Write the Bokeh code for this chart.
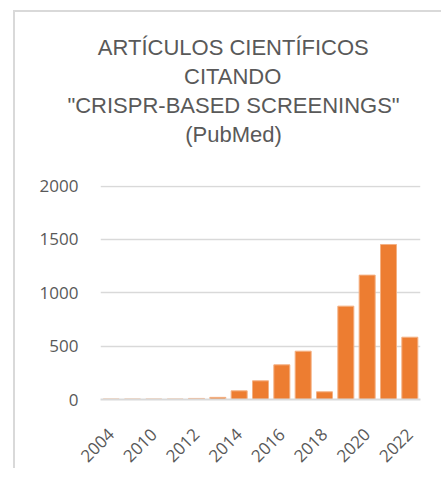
import math
from bokeh.plotting import figure
from bokeh.models import FixedTicker, Range1d, Title
from bokeh.embed import file_html
from bokeh.resources import INLINE

years = ["2004", "2009", "2010", "2011", "2012", "2013", "2014", "2015",
         "2016", "2017", "2018", "2019", "2020", "2021", "2022"]
counts = [5, 5, 5, 5, 10, 20, 81, 175, 325, 453, 72, 875, 1166, 1453, 584]
y_ticks = [0, 500, 1000, 1500, 2000]
title_lines = ["ARTÍCULOS CIENTÍFICOS", "CITANDO", "\"CRISPR-BASED SCREENINGS\"", "(PubMed)"]

xs = list(range(len(years)))
TXT = "#595959"
GRID = "#d9d9d9"

p = figure(width=428, height=458, output_backend="svg", toolbar_location=None,
           x_range=Range1d(-0.5, len(years) - 0.5), y_range=Range1d(0, 2006),
           min_border_left=85, min_border_right=23, min_border_bottom=70,
           min_border_top=173,
           styles={"border-top": "2px solid #d9d9d9", "border-left": "2px solid #d9d9d9",
                   "margin-left": "13px", "margin-top": "10px"})

p.vbar(x=xs, top=counts, width=0.75, fill_color="#ed7d31", line_color="#f4b183", line_width=1)

# title block: a spacer next to the plot area, then the lines (last added = outermost)
title_offsets = [-2.7, 83.5, -33.1, 84.7]   # left offsets so that the lines are centred
p.add_layout(Title(text=" ", text_font_size="10px", standoff=25), "above")
for line, off in reversed(list(zip(title_lines, title_offsets))):
    p.add_layout(Title(text=line, align="left", offset=off, text_font="Liberation Sans",
                       text_font_size="22px", text_font_style="normal",
                       text_color=TXT, standoff=2), "above")

p.outline_line_color = None
p.xgrid.grid_line_color = None
p.ygrid.grid_line_color = GRID
p.ygrid.grid_line_width = 1.5
p.ygrid.ticker = FixedTicker(ticks=y_ticks)

ya = p.yaxis[0]
ya.ticker = FixedTicker(ticks=y_ticks)
ya.axis_line_color = None
ya.major_tick_line_color = None
ya.minor_tick_line_color = None
ya.major_tick_out = 0
ya.major_label_standoff = 22
ya.major_label_text_font = "Open Sans"
ya.major_label_text_font_size = "17px"
ya.major_label_text_color = TXT

xa = p.xaxis[0]
xa.ticker = FixedTicker(ticks=xs[::2])
xa.major_label_overrides = {i: years[i] for i in xs[::2]}
xa.axis_line_color = GRID
xa.axis_line_width = 2
xa.major_tick_line_color = None
xa.minor_tick_line_color = None
xa.major_tick_out = 0
xa.major_label_orientation = math.pi / 4
xa.major_label_standoff = 32
xa.major_label_text_font = "Open Sans"
xa.major_label_text_font_size = "17px"
xa.major_label_text_color = TXT

open("out.html", "w").write(file_html(p, INLINE))
